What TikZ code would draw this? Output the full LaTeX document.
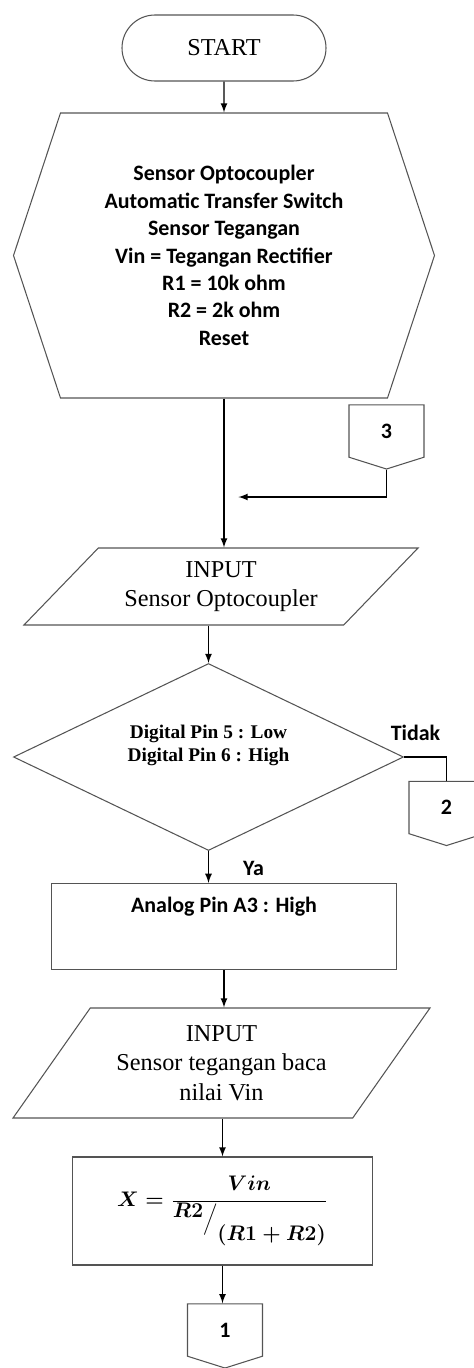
\documentclass[tikz,border=0pt]{standalone}
\usepackage{fontspec}
\setmainfont{Liberation Serif}
\newfontfamily\calibri{Carlito}
\usepackage{tikz}
\usetikzlibrary{shapes.geometric}
\usetikzlibrary{shapes.symbols}
\usetikzlibrary{arrows}
\definecolor{edgegray}{rgb}{0.33,0.33,0.33}
\tikzset{%
  terminal/.style={rectangle, rounded corners=0.66cm, draw=edgegray, minimum width=4.08cm, minimum height=1.32cm, font=\fontsize{13.8}{17}\selectfont},
  prepare/.style={signal, signal to=east and west, signal pointer angle=143.5, draw=edgegray, minimum width=8.42cm, minimum height=5.7cm, align=center, font=\calibri\bfseries\fontsize{12.5}{15.6}\selectfont},
  inputbox/.style={trapezium, trapezium stretches=true, draw=edgegray, align=center, font=\fontsize{13.8}{16.7}\selectfont},
  decision/.style={diamond, aspect=2.1, inner sep=1pt, draw=edgegray, minimum width=7.8cm, minimum height=3.74cm, align=center, font=\bfseries\fontsize{11}{13}\selectfont},
  process/.style={rectangle, draw=edgegray, align=center},
  offpage/.style={signal, signal to=south, signal pointer angle=145, draw=edgegray, minimum width=1.5cm, minimum height=1.12cm, font=\calibri\bfseries\fontsize{12.5}{15}\selectfont},
  answer/.style={font=\calibri\bfseries\fontsize{12.5}{15}\selectfont},
  flow/.style={-latex, line width=0.8pt}
}
\begin{document}
\begin{tikzpicture}[node distance=2.5cm, line width=0.6pt]
        \useasboundingbox (-4.48,0.96) rectangle (5.0,-26.4);
        \node [terminal]                                                        (start) {START};
        \node [prepare, below of=start, node distance=4.15cm]                   (init) {Sensor Optocoupler\\Automatic Transfer Switch\\Sensor Tegangan\\Vin = Tegangan Rectifier\\R1 = 10k ohm\\R2 = 2k ohm\\Reset};
        \node [offpage, below of=init, node distance=3.51cm, xshift=3.25cm]     (c3) {3};
        \coordinate [below of=c3, node distance=1.32cm, xshift=-2.96cm]         (j3);
        \node [inputbox, trapezium left angle=45, trapezium right angle=135, minimum width=7.9cm, minimum height=1.54cm,
               below of=init, node distance=6.62cm, xshift=-0.06cm]             (in1) {INPUT\\Sensor Optocoupler};
        \node [decision, below of=in1, node distance=3.41cm, xshift=-0.25cm]    (dec) {Digital Pin 5 : Low\\Digital Pin 6 : High\\[3pt]\mbox{}};
        \node [answer, above of=dec, node distance=0.48cm, xshift=4.14cm]       (tidak) {Tidak};
        \node [offpage, below of=dec, node distance=1.01cm, xshift=4.76cm]      (c2) {2};
        \node [answer, below of=dec, node distance=2.22cm, xshift=0.9cm]        (ya) {Ya};
        \node [process, minimum width=6.9cm, text height=0.46cm, text depth=1.03cm, font=\calibri\bfseries\fontsize{12.5}{15}\selectfont,
               below of=dec, node distance=3.39cm, xshift=0.31cm]               (proc) {Analog Pin A3 : High};
        \node [inputbox, trapezium left angle=53, trapezium right angle=127, minimum width=8.36cm, minimum height=2.2cm,
               below of=proc, node distance=2.73cm, xshift=-0.05cm]             (in2) {INPUT\\Sensor tegangan baca\\nilai Vin};
        \node [process, minimum width=6cm, minimum height=2.16cm, font=\boldmath\fontsize{13}{16}\selectfont,
               below of=in2, node distance=2.96cm, xshift=0.02cm]               (calc) {$X = \displaystyle\frac{Vin}{\raisebox{0.7ex}{$R2$}\Big/\raisebox{-1.5ex}{$(R1 + R2)$}}$};
        \node [offpage, below of=calc, node distance=2.38cm, xshift=0.05cm]     (c1) {1};

        \draw [flow] (start) -- (init);
        \draw [flow] (init.south) -- (init.south |- in1.north);
        \draw [flow] (c3.south) |- (j3);
        \draw [flow] (in1.south -| dec.north) -- (dec.north);
        \draw (dec.east) -| (c2.north);
        \draw [flow] (dec.south) -- (dec.south |- proc.north);
        \draw [flow] (proc.south) -- (proc.south |- in2.north);
        \draw [flow] (in2.south -| calc.north) -- (calc.north);
        \draw [flow] (calc.south) -- (calc.south |- c1.north);
    \end{tikzpicture}
\end{document}
